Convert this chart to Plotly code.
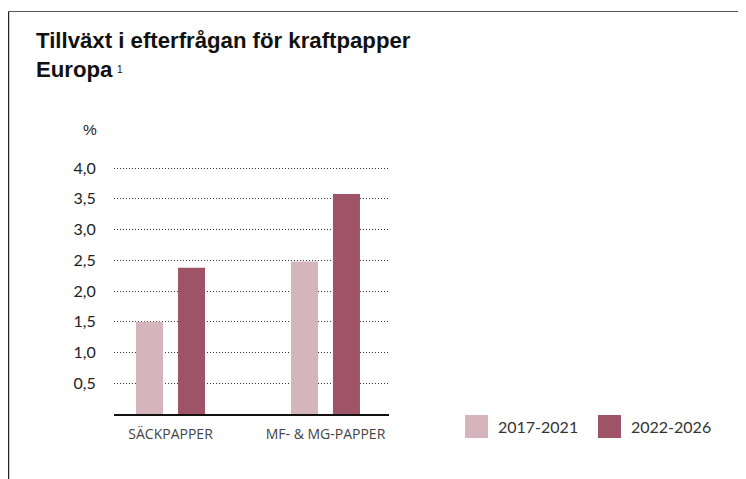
import plotly.graph_objects as go

categories = ["SÄCKPAPPER", "MF- & MG-PAPPER"]
series_names = ["2017-2021", "2022-2026"]
values_2017_2021 = [1.5, 2.48]
values_2022_2026 = [2.38, 3.58]
tick_values = [0.5, 1.0, 1.5, 2.0, 2.5, 3.0, 3.5, 4.0]

colors = ["#D5B4BB", "#9E5366"]

W, H = 746, 479
OFF = 8              # page body margin offset
L, R = 114 - OFF, 389 - OFF   # plot area x pixels (figure coords)
T, B = 165 - OFF, 414 - OFF   # plot area y pixels
YMAX = 4.05

def px(x):
    return (x - OFF - L) / (R - L)

def py(y):
    return (B - (y - OFF)) / (B - T)

fig = go.Figure()
for name, vals, col in zip(series_names, [values_2017_2021, values_2022_2026], colors):
    fig.add_trace(go.Bar(x=categories, y=vals, name=name, marker=dict(color=col, line=dict(width=0)),
                         showlegend=False, hoverinfo="skip"))

shapes = [
    dict(type="line", xref="paper", yref="paper", x0=px(8.6), x1=px(770), y0=py(11.5), y1=py(11.5),
         line=dict(color="#555555", width=1.2)),
    dict(type="line", xref="paper", yref="paper", x0=px(8.6), x1=px(8.6), y0=py(11.5), y1=py(500),
         line=dict(color="#222222", width=1.2)),
]
annotations = [
    dict(text="<b>Tillväxt i efterfrågan för kraftpapper</b>", xref="paper", yref="paper",
         x=px(34), y=py(55), xanchor="left", yanchor="bottom", showarrow=False,
         font=dict(family="Liberation Sans", size=22.2, color="#111111")),
    dict(text="<b>Europa</b>", xref="paper", yref="paper",
         x=px(34), y=py(84), xanchor="left", yanchor="bottom", showarrow=False,
         font=dict(family="Liberation Sans", size=22.2, color="#111111")),
    dict(text="1", xref="paper", yref="paper",
         x=px(114.5), y=py(69), xanchor="left", yanchor="middle", showarrow=False,
         font=dict(family="Liberation Sans", size=10, color="#111111")),
    dict(text="%", xref="paper", yref="paper", x=px(81), y=py(129.5), xanchor="left", yanchor="middle",
         showarrow=False, font=dict(family="Liberation Sans", size=15.5, color="#222222")),
]
leg_x = [465, 598]
for name, col, lx in zip(series_names, colors, leg_x):
    shapes.append(dict(type="rect", xref="paper", yref="paper", x0=px(lx), x1=px(lx + 23),
                       y0=py(415), y1=py(438), fillcolor=col, line=dict(width=0)))
    annotations.append(dict(text=name, xref="paper", yref="paper", x=px(lx + 31), y=py(426.5),
                            xanchor="left", yanchor="middle", showarrow=False,
                            font=dict(family="Lato", size=16, color="#333333")))

fig.update_layout(
    width=W, height=H,
    margin=dict(l=L, r=W - R, t=T, b=H - B, pad=0),
    paper_bgcolor="white", plot_bgcolor="white",
    barmode="group", bargap=0.458, bargroupgap=0.357,
    separators=",.",
    shapes=shapes, annotations=annotations,
    xaxis=dict(range=[-0.365, 1.41], showgrid=False, showline=True, linecolor="#111111", linewidth=1.5,
               ticks="", ticklabelstandoff=6,
               tickfont=dict(family="Open Sans", size=14, color="#444444"), fixedrange=True),
    yaxis=dict(range=[0, YMAX], tickvals=tick_values, tickformat=".1f", showgrid=True,
               gridcolor="#333333", gridwidth=1, griddash="1px,2px", zeroline=False, showline=False,
               ticks="outside", ticklen=14, tickcolor="rgba(0,0,0,0)",
               tickfont=dict(family="Lato", size=16, color="#222222")),
)

fig.write_html("out.html")
